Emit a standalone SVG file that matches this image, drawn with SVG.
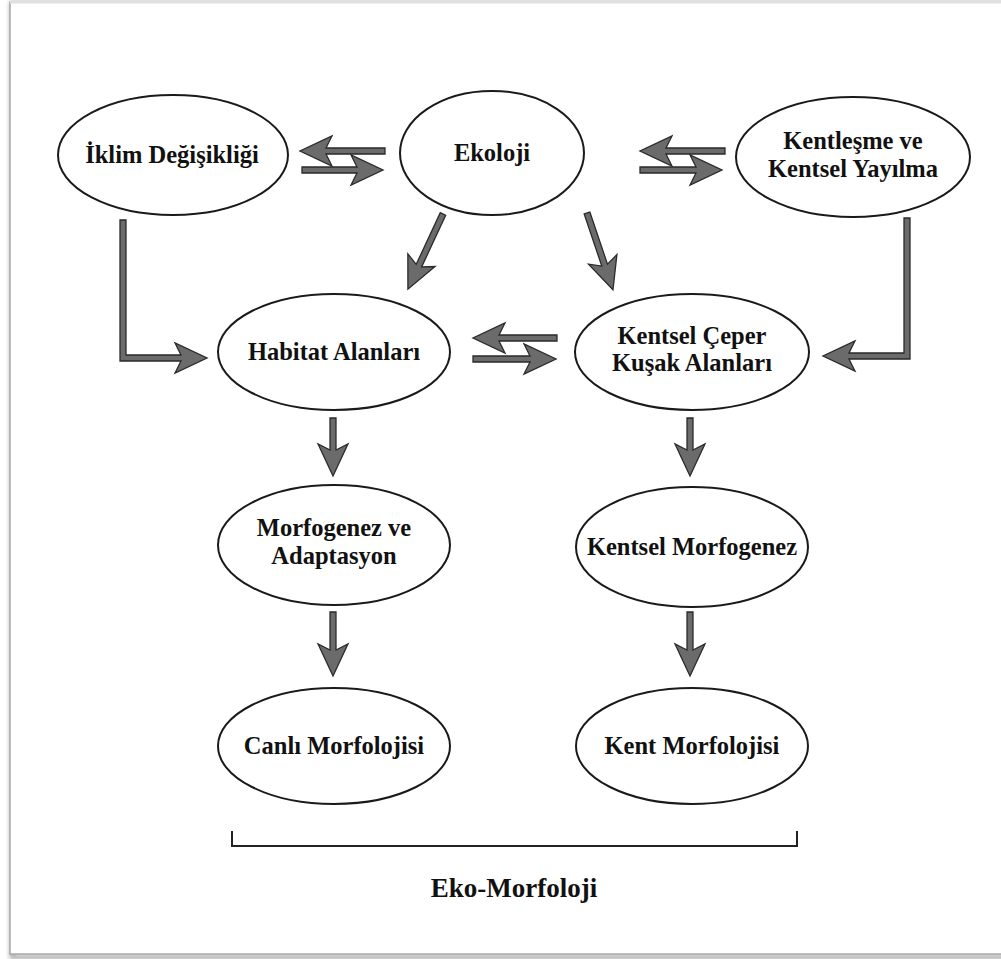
<svg xmlns="http://www.w3.org/2000/svg" width="1001" height="959" viewBox="0 0 1001 959">
<defs>
<style>
.node ellipse{fill:#fff;stroke:#1a1a1a;stroke-width:2}
.node text,.label{font-family:"Liberation Serif","Times New Roman",serif;font-weight:bold;font-size:24.5px;fill:#111;text-anchor:middle}
.arrow{fill:#6b6b6b;stroke:#2a2a2a;stroke-width:1.3;stroke-linejoin:miter}
</style>
<filter id="sh" x="-5%" y="-5%" width="110%" height="110%">
<feGaussianBlur stdDeviation="2.5"/>
</filter>
</defs>
<rect width="1001" height="959" fill="#fff"/>
<g id="frame">
<rect x="12" y="4" width="1000" height="953" fill="none" stroke="#9a9a9a" stroke-width="4" filter="url(#sh)"/>
<rect x="10" y="2" width="1000" height="952" fill="#fff" stroke="#a8a8a8" stroke-width="1.5"/>
<line x1="10" y1="2" x2="1001" y2="2" stroke="#e0e0e0" stroke-width="3"/>
</g>
<g id="connectors">
<path class="arrow" d="M0,-3 H59 L53,-15 L85,0 L53,15 L59,3 H0 Z" transform="translate(385,151) rotate(180)"/>
<path class="arrow" d="M0,-3 H55 L49,-15 L81,0 L49,15 L55,3 H0 Z" transform="translate(302,170)"/>
<path class="arrow" d="M0,-3 H59 L53,-15 L85,0 L53,15 L59,3 H0 Z" transform="translate(725,151) rotate(180)"/>
<path class="arrow" d="M0,-3 H56 L50,-15 L82,0 L50,15 L56,3 H0 Z" transform="translate(640,170)"/>
<path class="arrow" d="M0,-3 H58 L52,-15 L84,0 L52,15 L58,3 H0 Z" transform="translate(557,338) rotate(180)"/>
<path class="arrow" d="M0,-3 H57 L51,-15 L83,0 L51,15 L57,3 H0 Z" transform="translate(473,359)"/>
<path class="arrow" d="M0,-3 H57 L51,-15 L83,0 L51,15 L57,3 H0 Z" transform="translate(443,214) rotate(115)"/>
<path class="arrow" d="M0,-3 H55 L49,-15 L81,0 L49,15 L55,3 H0 Z" transform="translate(587,213) rotate(71.3)"/>
<path class="arrow" d="M120,220 H126 V355 H181 L175,343 L207,358 L175,373 L181,361 H120 Z"/>
<path class="arrow" d="M904,218 H910 V359 H849 L855,371 L823,356 L855,341 L849,353 H904 Z"/>
<path class="arrow" d="M0,-3 H32 L26,-15 L58,0 L26,15 L32,3 H0 Z" transform="translate(333,418) rotate(90)"/>
<path class="arrow" d="M0,-3 H38 L32,-15 L64,0 L32,15 L38,3 H0 Z" transform="translate(333,612) rotate(90)"/>
<path class="arrow" d="M0,-3 H32 L26,-15 L58,0 L26,15 L32,3 H0 Z" transform="translate(690,418) rotate(90)"/>
<path class="arrow" d="M0,-3 H38 L32,-15 L64,0 L32,15 L38,3 H0 Z" transform="translate(690,612) rotate(90)"/>
</g>
<g id="n-iklim" class="node"><ellipse cx="173" cy="155" rx="115" ry="60"/><text x="172" y="163">İklim Değişikliği</text></g>
<g id="n-ekoloji" class="node"><ellipse cx="492" cy="153" rx="92" ry="62"/><text x="492" y="161">Ekoloji</text></g>
<g id="n-kentlesme" class="node"><ellipse cx="853" cy="157" rx="117" ry="60"/><text x="853" y="149">Kentleşme ve</text><text x="853" y="177">Kentsel Yayılma</text></g>
<g id="n-habitat" class="node"><ellipse cx="334" cy="352" rx="116" ry="58"/><text x="334" y="360">Habitat Alanları</text></g>
<g id="n-ceper" class="node"><ellipse cx="692" cy="352" rx="117" ry="58"/><text x="692" y="344">Kentsel Çeper</text><text x="692" y="371">Kuşak Alanları</text></g>
<g id="n-morfogenez" class="node"><ellipse cx="334" cy="545" rx="116" ry="60"/><text x="334" y="536">Morfogenez ve</text><text x="334" y="564">Adaptasyon</text></g>
<g id="n-kmorfogenez" class="node"><ellipse cx="692" cy="547" rx="116" ry="60"/><text x="692" y="555">Kentsel Morfogenez</text></g>
<g id="n-canli" class="node"><ellipse cx="334" cy="746" rx="116" ry="58"/><text x="334" y="754">Canlı Morfolojisi</text></g>
<g id="n-kent" class="node"><ellipse cx="692" cy="746" rx="116" ry="58"/><text x="692" y="754">Kent Morfolojisi</text></g>
<g id="bracket">
<path d="M232,831 V846 H797 V831" fill="none" stroke="#222" stroke-width="2"/>
<text class="label" x="514" y="897" style="font-size:27px">Eko-Morfoloji</text>
</g>
</svg>
